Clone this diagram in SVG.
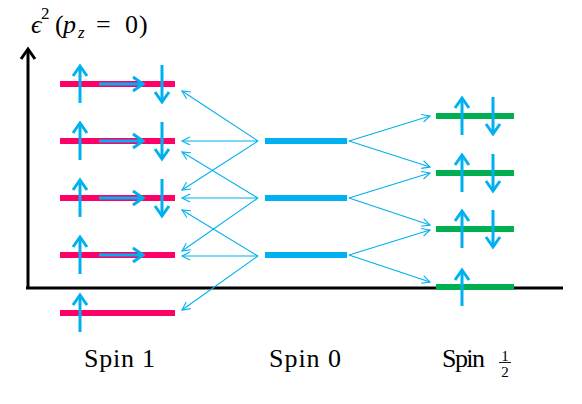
<svg xmlns="http://www.w3.org/2000/svg" width="582" height="404" viewBox="0 0 582 404">
<style>
.s1{stroke:#FF0066;stroke-width:6;}
.s0{stroke:#00B0F0;stroke-width:6;}
.sh{stroke:#00B050;stroke-width:6;}
.spin{stroke:#00B0F0;stroke-width:3;fill:none;}
.conn{stroke:#00B0F0;stroke-width:1.1;fill:none;marker-end:url(#open);}
.axis{stroke:#000;stroke-width:3;fill:none;}
</style>
<defs>
<marker id="open" markerUnits="userSpaceOnUse" markerWidth="14" markerHeight="14" refX="10" refY="7" orient="auto" viewBox="0 0 14 14">
<path d="M2,3 L10,7 L2,11" fill="none" stroke="#00B0F0" stroke-width="1.1"/>
</marker>
<marker id="chev" markerUnits="userSpaceOnUse" markerWidth="20" markerHeight="20" refX="15" refY="10" orient="auto" viewBox="0 0 20 20">
<path d="M5,3 L15,10 L5,17" fill="none" stroke="#00B0F0" stroke-width="3"/>
</marker>
</defs>
<g id="axes">
<line class="axis" x1="28" y1="289" x2="28" y2="49"/>
<path class="axis" d="M21,59 L28,49 L35,59"/>
<line class="axis" x1="26" y1="288" x2="563" y2="288"/>
<text font-family="Liberation Serif, serif" font-size="26" fill="#000" x="31" y="33"><tspan font-style="italic">ϵ</tspan><tspan x="41" y="19" font-size="17">2</tspan><tspan x="55" y="33">(</tspan><tspan x="63" y="33" font-style="italic">p</tspan><tspan x="78" y="38" font-size="17" font-style="italic">z</tspan><tspan x="96" y="33" textLength="17">=</tspan><tspan x="125" y="33">0</tspan><tspan x="139" y="33">)</tspan></text>
</g>
<g id="spin1-level1">
<line class="s1" x1="60" y1="84" x2="175" y2="84"/>
<line class="spin" x1="80" y1="103" x2="80" y2="66" marker-end="url(#chev)"/>
<line class="spin" x1="99" y1="84" x2="143" y2="84" marker-end="url(#chev)"/>
<line class="spin" x1="162" y1="65" x2="162" y2="102" marker-end="url(#chev)"/>
</g>
<g id="spin1-level2">
<line class="s1" x1="60" y1="141" x2="175" y2="141"/>
<line class="spin" x1="80" y1="160" x2="80" y2="123" marker-end="url(#chev)"/>
<line class="spin" x1="99" y1="141" x2="143" y2="141" marker-end="url(#chev)"/>
<line class="spin" x1="162" y1="122" x2="162" y2="159" marker-end="url(#chev)"/>
</g>
<g id="spin1-level3">
<line class="s1" x1="60" y1="198" x2="175" y2="198"/>
<line class="spin" x1="80" y1="217" x2="80" y2="180" marker-end="url(#chev)"/>
<line class="spin" x1="99" y1="198" x2="143" y2="198" marker-end="url(#chev)"/>
<line class="spin" x1="162" y1="179" x2="162" y2="216" marker-end="url(#chev)"/>
</g>
<g id="spin1-level4">
<line class="s1" x1="60" y1="255" x2="175" y2="255"/>
<line class="spin" x1="80" y1="274" x2="80" y2="237" marker-end="url(#chev)"/>
<line class="spin" x1="99" y1="255" x2="143" y2="255" marker-end="url(#chev)"/>
</g>
<g id="spin1-level5">
<line class="s1" x1="60" y1="313" x2="175" y2="313"/>
<line class="spin" x1="80" y1="332" x2="80" y2="295" marker-end="url(#chev)"/>
</g>
<g id="spin0-level1"><line class="s0" x1="265" y1="141" x2="347" y2="141"/></g>
<g id="spin0-level2"><line class="s0" x1="265" y1="198" x2="347" y2="198"/></g>
<g id="spin0-level3"><line class="s0" x1="265" y1="255" x2="347" y2="255"/></g>
<g id="spinhalf-level1">
<line class="sh" x1="436" y1="116" x2="514" y2="116"/>
<line class="spin" x1="462" y1="135" x2="462" y2="98" marker-end="url(#chev)"/>
<line class="spin" x1="493" y1="97" x2="493" y2="134" marker-end="url(#chev)"/>
</g>
<g id="spinhalf-level2">
<line class="sh" x1="436" y1="173" x2="514" y2="173"/>
<line class="spin" x1="462" y1="192" x2="462" y2="155" marker-end="url(#chev)"/>
<line class="spin" x1="493" y1="154" x2="493" y2="191" marker-end="url(#chev)"/>
</g>
<g id="spinhalf-level3">
<line class="sh" x1="436" y1="229" x2="514" y2="229"/>
<line class="spin" x1="462" y1="248" x2="462" y2="211" marker-end="url(#chev)"/>
<line class="spin" x1="493" y1="210" x2="493" y2="247" marker-end="url(#chev)"/>
</g>
<g id="spinhalf-level4">
<line class="sh" x1="436" y1="287" x2="514" y2="287"/>
<line class="spin" x1="462" y1="306" x2="462" y2="270" marker-end="url(#chev)"/>
</g>
<g id="connectors">
<line class="conn" x1="258" y1="141" x2="182" y2="91"/>
<line class="conn" x1="258" y1="141" x2="182" y2="141"/>
<line class="conn" x1="258" y1="141" x2="182" y2="190"/>
<line class="conn" x1="258" y1="198" x2="182" y2="152"/>
<line class="conn" x1="258" y1="198" x2="182" y2="198"/>
<line class="conn" x1="258" y1="198" x2="182" y2="251"/>
<line class="conn" x1="258" y1="256" x2="182" y2="210"/>
<line class="conn" x1="258" y1="256" x2="182" y2="256"/>
<line class="conn" x1="258" y1="256" x2="182" y2="310"/>
<line class="conn" x1="349" y1="141" x2="430" y2="116"/>
<line class="conn" x1="349" y1="141" x2="430" y2="167"/>
<line class="conn" x1="349" y1="198" x2="430" y2="173"/>
<line class="conn" x1="349" y1="198" x2="430" y2="225"/>
<line class="conn" x1="349" y1="255" x2="430" y2="230"/>
<line class="conn" x1="349" y1="255" x2="430" y2="282"/>
</g>
<g id="labels" font-family="Liberation Serif, serif" fill="#000">
<text x="84" y="367" font-size="26" textLength="71">Spin 1</text>
<text x="269" y="367" font-size="26" textLength="72">Spin 0</text>
<text x="442" y="367" font-size="26" textLength="43">Spin</text>
<text x="505" y="360.5" font-size="15" text-anchor="middle">1</text>
<line x1="499" y1="362.5" x2="511" y2="362.5" stroke="#000" stroke-width="0.9"/>
<text x="505" y="377" font-size="15" text-anchor="middle">2</text>
</g>
</svg>
